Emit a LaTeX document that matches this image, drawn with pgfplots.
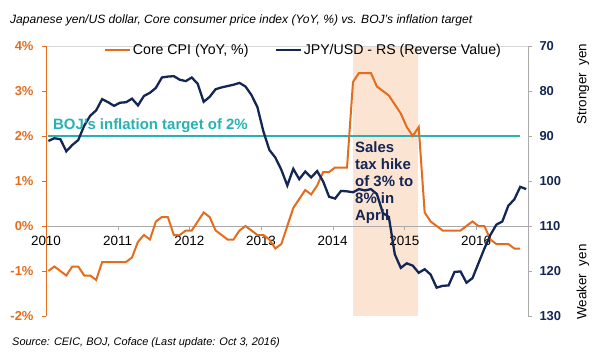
\documentclass[border=0pt]{standalone}
\usepackage{pgfplots}
\pgfplotsset{compat=1.18}
\usepackage{pgfplotstable}
\usepackage{fontspec}
\setmainfont{Liberation Sans}
\definecolor{cpi}{RGB}{228,108,28}
\definecolor{jpy}{RGB}{20,38,84}
\definecolor{boj}{RGB}{38,178,178}
\definecolor{taxshade}{RGB}{252,228,210}
\definecolor{frame}{RGB}{215,215,215}
\definecolor{axgray}{RGB}{170,170,170}

% month index (0 = Jan 2010), value
\pgfplotstableread{
m v
0 -1.0
1 -0.9
2 -1.0
3 -1.1
4 -0.9
5 -0.9
6 -1.1
7 -1.1
8 -1.2
9 -0.8
10 -0.8
11 -0.8
12 -0.8
13 -0.8
14 -0.7
15 -0.35
16 -0.2
17 -0.3
18 0.1
19 0.2
20 0.2
21 -0.2
22 -0.2
23 -0.1
24 -0.1
25 0.1
26 0.3
27 0.2
28 -0.1
29 -0.2
30 -0.3
31 -0.3
32 -0.1
33 0.0
34 -0.1
35 -0.2
36 -0.2
37 -0.3
38 -0.5
39 -0.4
40 0.0
41 0.4
42 0.6
43 0.8
44 0.7
45 0.9
46 1.2
47 1.2
48 1.3
49 1.3
50 1.3
51 3.2
52 3.4
53 3.4
54 3.4
55 3.1
56 3.0
57 2.9
58 2.7
59 2.5
60 2.2
61 2.0
62 2.2
63 0.3
64 0.1
65 0.0
66 -0.1
67 -0.1
68 -0.1
69 -0.1
70 0.0
71 0.1
72 0.0
73 0.0
74 -0.3
75 -0.4
76 -0.4
77 -0.4
78 -0.5
79 -0.5
}\cpitable

\pgfplotstableread{
m v
0 91.1
1 90.5
2 90.7
3 93.4
4 92.0
5 90.9
6 87.7
7 85.5
8 84.3
9 81.8
10 82.5
11 83.3
12 82.6
13 82.5
14 81.7
15 83.2
16 81.1
17 80.4
18 79.3
19 77.0
20 76.8
21 76.7
22 77.5
23 77.8
24 77.0
25 78.4
26 82.4
27 81.3
28 79.6
29 79.2
30 78.9
31 78.6
32 78.2
33 79.0
34 80.9
35 83.6
36 89.0
37 93.1
38 94.8
39 97.5
40 101.0
41 97.3
42 99.6
43 97.9
44 99.2
45 97.8
46 100.1
47 103.5
48 103.9
49 102.2
50 102.3
51 102.5
52 101.8
53 102.1
54 101.8
55 102.9
56 107.1
57 108.0
58 116.3
59 119.3
60 118.3
61 118.8
62 120.4
63 119.6
64 120.8
65 123.7
66 123.3
67 123.2
68 120.2
69 120.1
70 122.6
71 121.6
72 118.3
73 115.0
74 112.0
75 109.7
76 109.0
77 105.5
78 104.1
79 101.3
80 101.8
}\jpytable

\begin{document}
\begin{tikzpicture}
\pgfplotsset{
  base/.style={scale only axis, width=482bp, height=270bp,
    at={(0bp,0bp)}, anchor=south west, xmin=0, xmax=80.7,
    /pgf/number format/assume math mode=true},
}
\path[use as bounding box] (-46bp,-40bp) rectangle (554bp,316bp);

% background: shaded sales-tax period and light frame
\begin{axis}[base, ymin=-2, ymax=4, hide axis]
\fill[taxshade] (axis cs:51.4,-2) rectangle (axis cs:62.3,4);
\draw[frame] (rel axis cs:0,1) -- (rel axis cs:1,1);
\draw[frame] (rel axis cs:0,0) -- (rel axis cs:1,0);
\end{axis}

\begin{axis}[base,
  ymin=-2, ymax=4,
  axis x line=middle, axis y line=left,
  hide obscured x ticks=false,
  x axis line style={-, draw=axgray},
  y axis line style={-, draw=cpi},
  xtick={0,12,24,36,48,60,72},
  xticklabels={2010,2011,2012,2013,2014,2015,2016},
  xtick style={draw=axgray},
  ytick={-2,-1,0,1,2,3,4},
  yticklabels={-2\%,-1\%,0\%,1\%,2\%,3\%,4\%},
  ytick style={draw=cpi},
  tick align=outside, major tick length=4bp,
  xticklabel style={font=\fontsize{13.5}{14}\selectfont, text=black, yshift=-3bp},
  yticklabel style={font=\bfseries\fontsize{13}{14}\selectfont, text=cpi, xshift=-5bp},
]
\addplot[boj, line width=2.2bp] coordinates {(0.4,2) (79.4,2)};
\addplot[cpi, line width=2bp] table[x expr=\thisrow{m}+0.4, y=v] {\cpitable};
\end{axis}

\begin{axis}[base,
  ymin=70, ymax=130, y dir=reverse,
  axis y line=right, axis x line=none,
  y axis line style={-, draw=axgray},
  ytick={70,80,90,100,110,120,130},
  ytick style={draw=axgray},
  tick align=outside, major tick length=4bp,
  yticklabel style={font=\bfseries\fontsize{13}{14}\selectfont, text=jpy, xshift=4bp},
  legend style={at={(0.534,0.985)}, anchor=center, draw=none, fill=none,
    font=\fontsize{14.2}{15}\selectfont, legend columns=2,
    /tikz/every even column/.append style={column sep=24bp}},
  legend image code/.code={\draw[#1] (0bp,0bp) -- (25bp,0bp);},
]
\addlegendimage{cpi, line width=2bp}
\addlegendentry{Core CPI (YoY, \%)}
\addplot[jpy, line width=2.3bp] table[x expr=\thisrow{m}+0.4, y=v] {\jpytable};
\addlegendentry{JPY/USD - RS (Reverse Value)}
\end{axis}

\node[anchor=base west, inner sep=0, text=boj, font=\bfseries\fontsize{15}{15}\selectfont] at (7bp,186bp) {BOJ's inflation target of 2\%};
\node[anchor=north west, inner sep=0, align=left, text=jpy, font=\bfseries\fontsize{15}{17.3}\selectfont] at (309bp,175bp) {Sales\\tax hike\\of 3\% to\\8\% in\\April};

\node[anchor=base west, inner sep=0, font=\itshape\fontsize{12.1}{13}\selectfont] at (-36bp,292bp) {Japanese yen/US dollar, Core consumer price index (YoY, \%) vs. BOJ's inflation target};
\node[anchor=base west, inner sep=0, font=\itshape\fontsize{11}{12}\selectfont] at (-34bp,-29bp) {Source: CEIC, BOJ, Coface (Last update: Oct 3, 2016)};

\node[rotate=90, inner sep=0, font=\fontsize{13.5}{14}\selectfont] at (537bp,232bp) {Stronger\ \ yen};
\node[rotate=90, inner sep=0, font=\fontsize{13.5}{14}\selectfont] at (537bp,34bp) {Weaker\ \ yen};
\end{tikzpicture}
\end{document}
